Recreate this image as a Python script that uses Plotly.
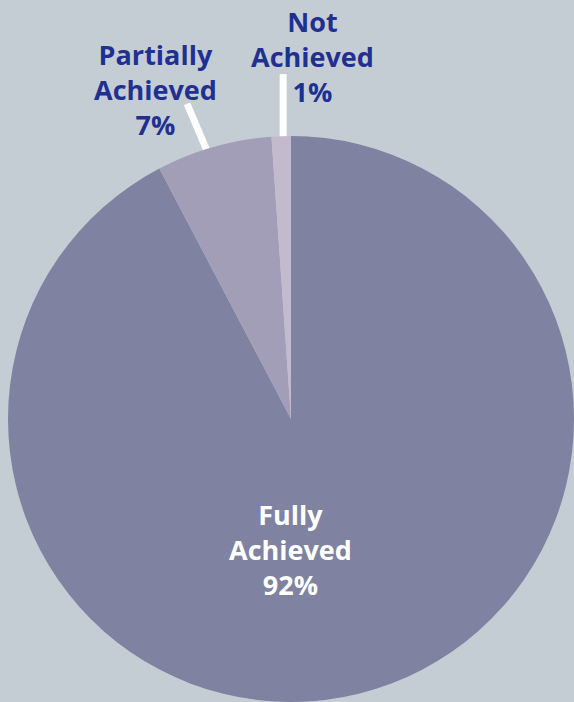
import math
import plotly.graph_objects as go

categories = ["Fully Achieved", "Partially Achieved", "Not Achieved"]
values = [92.3, 6.6, 1.1]
colors = ["#7f82a0", "#a29eb8", "#c4bace"]
label_lines = ["Fully<br>Achieved", "Partially<br>Achieved", "Not<br>Achieved"]

W, H = 574, 702
BG = "#c5cdd4"
BLUE = "#1f3190"
FONT = "Open Sans"

# pie geometry (pixels)
cx, cy, r = 291, 419, 283
dom_x = [(cx - (W - cx)) / W, 1]
dom_y = [0, (2 * (H - cy)) / H]

fig = go.Figure(go.Pie(
    labels=categories,
    values=values,
    sort=False,
    direction="clockwise",
    rotation=0,
    marker=dict(colors=colors, line=dict(width=0)),
    textinfo="none",
    hoverinfo="label+percent",
    domain=dict(x=dom_x, y=dom_y),
    showlegend=False,
))

# leader lines from the rim of each small slice (angles computed from data)
total = sum(values)
starts = []
cum = 0
for v in values:
    starts.append(cum)
    cum += v

# slice index: (fraction along slice, dx, dy)
leaders = {1: (0.44, -20, -45), 2: (0.6, 0, -62)}
shapes = []
for i, (frac, dx, dy) in leaders.items():
    a = (starts[i] + frac * values[i]) / total * 2 * math.pi
    px = cx + r * math.sin(a)
    py = cy - r * math.cos(a)
    shapes.append(dict(
        type="line", xref="paper", yref="paper",
        x0=px / W, y0=1 - (py + 2) / H,
        x1=(px + dx) / W, y1=1 - (py + dy) / H,
        line=dict(color="white", width=7), layer="below",
    ))

# label positions (pixels) and colours
label_pos = [(290, 549, "white"), (155, 89, BLUE), (312, 56, BLUE)]
annotations = []
for i, (x, y, col) in enumerate(label_pos):
    pct = round(values[i] / total * 100)
    annotations.append(dict(
        text=f"{label_lines[i]}<br>{pct}%", x=x / W, y=1 - y / H,
        xref="paper", yref="paper",
        showarrow=False, xanchor="center", yanchor="middle", align="center",
        font=dict(family=FONT, size=27, color=col, weight="bold"),
    ))

fig.update_layout(
    width=W, height=H,
    margin=dict(l=0, r=0, t=0, b=0),
    paper_bgcolor=BG, plot_bgcolor=BG,
    shapes=shapes, annotations=annotations,
)

fig.write_html("out.html", config={"displayModeBar": False},
               post_script="document.body.style.margin='0';")
